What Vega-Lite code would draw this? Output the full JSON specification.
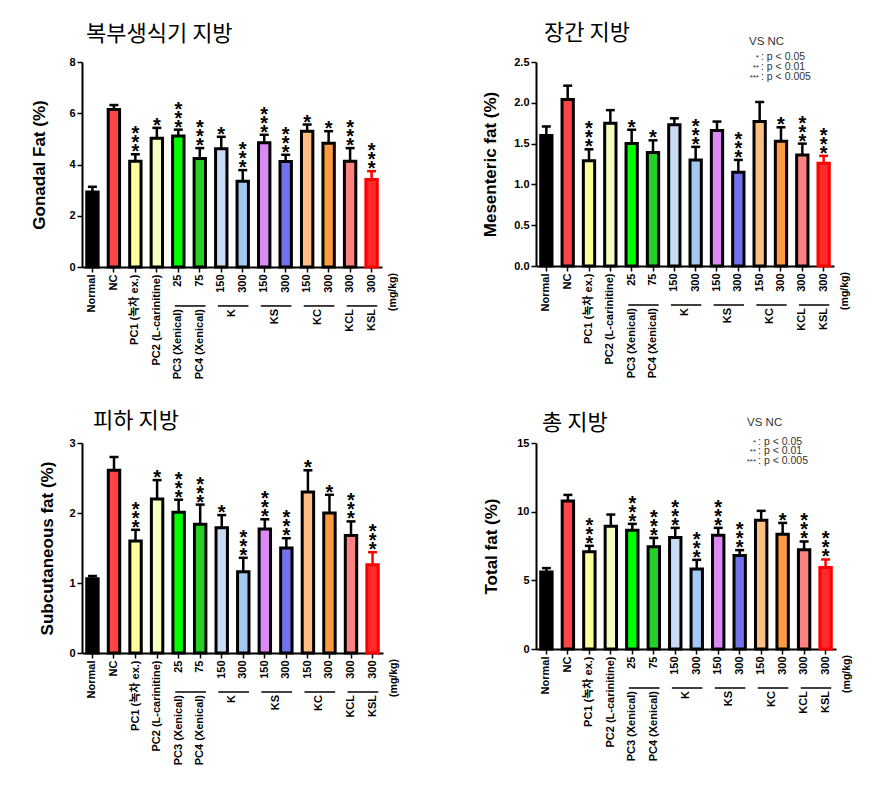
{
  "$schema": "https://vega.github.io/schema/vega-lite/v6.json",
  "padding": {"left": 30, "top": 22, "right": 5, "bottom": 5},
  "background": "white",
  "config": {
    "view": {"stroke": null},
    "font": "Liberation Sans, Noto Sans CJK KR",
    "scale": {"bandPaddingInner": 0.47, "bandPaddingOuter": 0.22},
    "axis": {
      "grid": false, "domainColor": "black", "tickColor": "black", "labelColor": "black", "titleColor": "black",
      "labelFont": "Liberation Sans, Noto Sans CJK KR", "titleFont": "Liberation Sans, Noto Sans CJK KR",
      "domainWidth": 2, "tickWidth": 1.5, "tickSize": 5, "labelFontWeight": "bold", "labelFontSize": 11,
      "titleFontWeight": "bold", "titleFontSize": 17
    },
    "axisX": {
      "labelAngle": -90, "labelAlign": "right", "labelBaseline": "middle", "labelPadding": 2, "title": null,
      "labelExpr": "datum.value === 'PC1' ? 'PC1 (녹차 ex.)' : datum.value === 'PC2' ? 'PC2 (L-carinitine)' : datum.value === 'PC3' ? '25' : datum.value === 'PC4' ? '75' : (datum.value === 'K150' || datum.value === 'KS150' || datum.value === 'KC150') ? '150' : (datum.value === 'K300' || datum.value === 'KS300' || datum.value === 'KC300' || datum.value === 'KCL' || datum.value === 'KSL') ? '300' : datum.value"
    },
    "axisY": {"labelPadding": 2},
    "title": {"font": "Noto Sans CJK KR", "fontSize": 22, "fontWeight": "normal", "anchor": "start", "frame": "group", "color": "black"},
    "text": {"font": "Liberation Sans, Noto Sans CJK KR", "color": "black"}
  },
  "datasets": {
    "gonadal": [
      {"id": "Normal", "mean": 2.93, "upper": 3.13, "stars": 0},
      {"id": "NC", "mean": 6.15, "upper": 6.32, "stars": 0},
      {"id": "PC1", "mean": 4.13, "upper": 4.40, "stars": 3},
      {"id": "PC2", "mean": 5.02, "upper": 5.43, "stars": 1},
      {"id": "PC3", "mean": 5.11, "upper": 5.36, "stars": 3},
      {"id": "PC4", "mean": 4.23, "upper": 4.64, "stars": 3},
      {"id": "K150", "mean": 4.61, "upper": 5.08, "stars": 1},
      {"id": "K300", "mean": 3.35, "upper": 3.78, "stars": 3},
      {"id": "KS150", "mean": 4.85, "upper": 5.16, "stars": 3},
      {"id": "KS300", "mean": 4.12, "upper": 4.38, "stars": 3},
      {"id": "KC150", "mean": 5.30, "upper": 5.56, "stars": 1},
      {"id": "KC300", "mean": 4.83, "upper": 5.30, "stars": 1},
      {"id": "KCL", "mean": 4.13, "upper": 4.64, "stars": 3},
      {"id": "KSL", "mean": 3.41, "upper": 3.74, "stars": 3}
    ],
    "mesenteric": [
      {"id": "Normal", "mean": 1.60, "upper": 1.71, "stars": 0},
      {"id": "NC", "mean": 2.04, "upper": 2.21, "stars": 0},
      {"id": "PC1", "mean": 1.29, "upper": 1.43, "stars": 3},
      {"id": "PC2", "mean": 1.75, "upper": 1.91, "stars": 0},
      {"id": "PC3", "mean": 1.50, "upper": 1.67, "stars": 1},
      {"id": "PC4", "mean": 1.39, "upper": 1.54, "stars": 1},
      {"id": "K150", "mean": 1.73, "upper": 1.81, "stars": 0},
      {"id": "K300", "mean": 1.30, "upper": 1.46, "stars": 3},
      {"id": "KS150", "mean": 1.66, "upper": 1.77, "stars": 0},
      {"id": "KS300", "mean": 1.15, "upper": 1.30, "stars": 3},
      {"id": "KC150", "mean": 1.77, "upper": 2.01, "stars": 0},
      {"id": "KC300", "mean": 1.53, "upper": 1.70, "stars": 1},
      {"id": "KCL", "mean": 1.36, "upper": 1.50, "stars": 3},
      {"id": "KSL", "mean": 1.26, "upper": 1.35, "stars": 3}
    ],
    "subcutaneous": [
      {"id": "Normal", "mean": 1.06, "upper": 1.10, "stars": 0},
      {"id": "NC", "mean": 2.61, "upper": 2.80, "stars": 0},
      {"id": "PC1", "mean": 1.60, "upper": 1.76, "stars": 3},
      {"id": "PC2", "mean": 2.20, "upper": 2.47, "stars": 1},
      {"id": "PC3", "mean": 2.01, "upper": 2.19, "stars": 3},
      {"id": "PC4", "mean": 1.84, "upper": 2.12, "stars": 3},
      {"id": "K150", "mean": 1.79, "upper": 1.97, "stars": 1},
      {"id": "K300", "mean": 1.16, "upper": 1.36, "stars": 3},
      {"id": "KS150", "mean": 1.77, "upper": 1.91, "stars": 3},
      {"id": "KS300", "mean": 1.50, "upper": 1.64, "stars": 3},
      {"id": "KC150", "mean": 2.30, "upper": 2.61, "stars": 1},
      {"id": "KC300", "mean": 2.00, "upper": 2.26, "stars": 1},
      {"id": "KCL", "mean": 1.68, "upper": 1.88, "stars": 3},
      {"id": "KSL", "mean": 1.26, "upper": 1.44, "stars": 3}
    ],
    "total": [
      {"id": "Normal", "mean": 5.60, "upper": 5.89, "stars": 0},
      {"id": "NC", "mean": 10.78, "upper": 11.22, "stars": 0},
      {"id": "PC1", "mean": 7.08, "upper": 7.51, "stars": 3},
      {"id": "PC2", "mean": 8.94, "upper": 9.79, "stars": 0},
      {"id": "PC3", "mean": 8.65, "upper": 9.11, "stars": 3},
      {"id": "PC4", "mean": 7.44, "upper": 8.09, "stars": 3},
      {"id": "K150", "mean": 8.12, "upper": 8.82, "stars": 3},
      {"id": "K300", "mean": 5.82, "upper": 6.49, "stars": 3},
      {"id": "KS150", "mean": 8.29, "upper": 8.82, "stars": 3},
      {"id": "KS300", "mean": 6.81, "upper": 7.20, "stars": 3},
      {"id": "KC150", "mean": 9.38, "upper": 10.06, "stars": 0},
      {"id": "KC300", "mean": 8.36, "upper": 9.18, "stars": 1},
      {"id": "KCL", "mean": 7.22, "upper": 7.83, "stars": 3},
      {"id": "KSL", "mean": 5.94, "upper": 6.52, "stars": 3}
    ],
    "pairs": [
      {"from": "PC3", "to": "PC4"},
      {"from": "K150", "to": "K300"},
      {"from": "KS150", "to": "KS300"},
      {"from": "KC150", "to": "KC300"},
      {"from": "KCL", "to": "KSL"}
    ],
    "single": [
      {"id": "PC3", "label": "PC3 (Xenical)"},
      {"id": "PC4", "label": "PC4 (Xenical)"},
      {"id": "KCL", "label": "KCL"},
      {"id": "KSL", "label": "KSL"}
    ],
    "grouped": [
      {"id": "K150", "label": "K"},
      {"id": "KS150", "label": "KS"},
      {"id": "KC150", "label": "KC"}
    ],
    "unit": [{"t": "(mg/kg)"}],
    "vsnc": [{"t": "VS NC"}],
    "one": [{"k": 1}]
  },
  "columns": 1,
  "align": "none",
  "spacing": 30,
  "concat": [
    {
      "spacing": 82,
      "hconcat": [
        {
          "width": 300, "height": 205,
          "title": {"text": "복부생식기 지방", "dx": 4, "offset": 10},
          "resolve": {"axis": {"x": "independent", "y": "independent"}},
          "layer": [
            {"data": {"name": "gonadal"}, "mark": {"type": "bar", "strokeWidth": 3},
             "encoding": {
               "x": {"field": "id", "type": "nominal", "scale": {"domain": ["Normal","NC","PC1","PC2","PC3","PC4","K150","K300","KS150","KS300","KC150","KC300","KCL","KSL"]}},
               "y": {"field": "mean", "type": "quantitative", "scale": {"domain": [0, 8], "nice": false}, "axis": {"title": "Gonadal Fat  (%)", "values": [0, 2, 4, 6, 8], "titlePadding": 20}},
               "fill": {"field": "id", "type": "nominal", "legend": null, "scale": {"domain": ["Normal","NC","PC1","PC2","PC3","PC4","K150","K300","KS150","KS300","KC150","KC300","KCL","KSL"], "range": ["#000000","#FF4545","#FFFF99","#F4FFC0","#00FF00","#26CF26","#C8DCF5","#A3C8F2","#DC88F6","#7272EE","#FFBE82","#FF9A40","#FF8282","#FF2A2A"]}},
               "stroke": {"condition": {"test": "datum.id === 'KSL'", "value": "#FF0000"}, "value": "#000000"}
             }},
            {"data": {"name": "gonadal"}, "mark": {"type": "rule", "strokeWidth": 2.5},
             "encoding": {
               "x": {"field": "id", "type": "nominal", "axis": null, "scale": {"domain": ["Normal","NC","PC1","PC2","PC3","PC4","K150","K300","KS150","KS300","KC150","KC300","KCL","KSL"]}},
               "y": {"field": "mean", "type": "quantitative", "axis": null, "scale": {"domain": [0, 8], "nice": false}},
               "y2": {"field": "upper"},
               "color": {"condition": {"test": "datum.id === 'KSL'", "value": "#FF0000"}, "value": "#000000"}
             }},
            {"data": {"name": "gonadal"}, "mark": {"type": "tick", "thickness": 2.5, "size": 9},
             "encoding": {
               "x": {"field": "id", "type": "nominal", "axis": null, "scale": {"domain": ["Normal","NC","PC1","PC2","PC3","PC4","K150","K300","KS150","KS300","KC150","KC300","KCL","KSL"]}},
               "y": {"field": "upper", "type": "quantitative", "axis": null, "scale": {"domain": [0, 8], "nice": false}},
               "color": {"condition": {"test": "datum.id === 'KSL'", "value": "#FF0000"}, "value": "#000000"},
               "opacity": {"value": 1}
             }},
            {"data": {"name": "gonadal"}, "transform": [{"filter": "datum.stars >= 1"}], "mark": {"type": "text", "baseline": "bottom", "fontSize": 20, "fontWeight": "bold", "dy": 8},
             "encoding": {
               "x": {"field": "id", "type": "nominal", "axis": null, "scale": {"domain": ["Normal","NC","PC1","PC2","PC3","PC4","K150","K300","KS150","KS300","KC150","KC300","KCL","KSL"]}},
               "y": {"field": "upper", "type": "quantitative", "axis": null, "scale": {"domain": [0, 8], "nice": false}},
               "text": {"value": "*"}
             }},
            {"data": {"name": "gonadal"}, "transform": [{"filter": "datum.stars >= 2"}], "mark": {"type": "text", "baseline": "bottom", "fontSize": 20, "fontWeight": "bold", "dy": -1},
             "encoding": {
               "x": {"field": "id", "type": "nominal", "axis": null, "scale": {"domain": ["Normal","NC","PC1","PC2","PC3","PC4","K150","K300","KS150","KS300","KC150","KC300","KCL","KSL"]}},
               "y": {"field": "upper", "type": "quantitative", "axis": null, "scale": {"domain": [0, 8], "nice": false}},
               "text": {"value": "*"}
             }},
            {"data": {"name": "gonadal"}, "transform": [{"filter": "datum.stars >= 3"}], "mark": {"type": "text", "baseline": "bottom", "fontSize": 20, "fontWeight": "bold", "dy": -10},
             "encoding": {
               "x": {"field": "id", "type": "nominal", "axis": null, "scale": {"domain": ["Normal","NC","PC1","PC2","PC3","PC4","K150","K300","KS150","KS300","KC150","KC300","KCL","KSL"]}},
               "y": {"field": "upper", "type": "quantitative", "axis": null, "scale": {"domain": [0, 8], "nice": false}},
               "text": {"value": "*"}
             }},
            {"data": {"name": "pairs"}, "mark": {"type": "rule", "strokeWidth": 1.5, "color": "black"},
             "encoding": {
               "x": {"field": "from", "type": "nominal", "bandPosition": 0.2, "axis": null, "scale": {"domain": ["Normal","NC","PC1","PC2","PC3","PC4","K150","K300","KS150","KS300","KC150","KC300","KCL","KSL"]}},
               "x2": {"field": "to", "bandPosition": 1},
               "y": {"datum": -1.52, "type": "quantitative", "axis": null, "scale": {"domain": [0, 8], "nice": false}}
             }},
            {"data": {"name": "single"}, "mark": {"type": "text", "angle": 270, "align": "right", "baseline": "middle", "fontSize": 11, "fontWeight": "bold"},
             "encoding": {
               "x": {"field": "id", "type": "nominal", "axis": null, "scale": {"domain": ["Normal","NC","PC1","PC2","PC3","PC4","K150","K300","KS150","KS300","KC150","KC300","KCL","KSL"]}},
               "y": {"datum": -1.64, "type": "quantitative", "axis": null, "scale": {"domain": [0, 8], "nice": false}},
               "text": {"field": "label"}
             }},
            {"data": {"name": "grouped"}, "mark": {"type": "text", "angle": 270, "align": "right", "baseline": "middle", "fontSize": 11, "fontWeight": "bold"},
             "encoding": {
               "x": {"field": "id", "type": "nominal", "bandPosition": 1.443, "axis": null, "scale": {"domain": ["Normal","NC","PC1","PC2","PC3","PC4","K150","K300","KS150","KS300","KC150","KC300","KCL","KSL"]}},
               "y": {"datum": -1.64, "type": "quantitative", "axis": null, "scale": {"domain": [0, 8], "nice": false}},
               "text": {"field": "label"}
             }},
            {"data": {"name": "unit"}, "mark": {"type": "text", "angle": 270, "align": "right", "baseline": "middle", "fontSize": 10.5, "fontWeight": "bold"},
             "encoding": {
               "x": {"datum": "KSL", "type": "nominal", "bandPosition": 2.4, "axis": null, "scale": {"domain": ["Normal","NC","PC1","PC2","PC3","PC4","K150","K300","KS150","KS300","KC150","KC300","KCL","KSL"]}},
               "y": {"datum": -0.234, "type": "quantitative", "axis": null, "scale": {"domain": [0, 8], "nice": false}},
               "text": {"field": "t"}
             }}
          ]
        },
        {
          "width": 298, "height": 204,
          "title": {"text": "장간 지방", "dx": 8, "offset": -9},
          "resolve": {"axis": {"x": "independent", "y": "independent"}},
          "layer": [
            {"data": {"name": "mesenteric"}, "mark": {"type": "bar", "strokeWidth": 3},
             "encoding": {
               "x": {"field": "id", "type": "nominal", "scale": {"domain": ["Normal","NC","PC1","PC2","PC3","PC4","K150","K300","KS150","KS300","KC150","KC300","KCL","KSL"]}},
               "y": {"field": "mean", "type": "quantitative", "scale": {"domain": [0, 2.5], "nice": false}, "axis": {"title": "Mesenteric fat (%)", "values": [0, 0.5, 1, 1.5, 2, 2.5], "format": ".1f", "titlePadding": 14}},
               "fill": {"field": "id", "type": "nominal", "legend": null, "scale": {"domain": ["Normal","NC","PC1","PC2","PC3","PC4","K150","K300","KS150","KS300","KC150","KC300","KCL","KSL"], "range": ["#000000","#FF4545","#FFFF99","#F4FFC0","#00FF00","#26CF26","#C8DCF5","#A3C8F2","#DC88F6","#7272EE","#FFBE82","#FF9A40","#FF8282","#FF2A2A"]}},
               "stroke": {"condition": {"test": "datum.id === 'KSL'", "value": "#FF0000"}, "value": "#000000"}
             }},
            {"data": {"name": "mesenteric"}, "mark": {"type": "rule", "strokeWidth": 2.5},
             "encoding": {
               "x": {"field": "id", "type": "nominal", "axis": null, "scale": {"domain": ["Normal","NC","PC1","PC2","PC3","PC4","K150","K300","KS150","KS300","KC150","KC300","KCL","KSL"]}},
               "y": {"field": "mean", "type": "quantitative", "axis": null, "scale": {"domain": [0, 2.5], "nice": false}},
               "y2": {"field": "upper"},
               "color": {"condition": {"test": "datum.id === 'KSL'", "value": "#FF0000"}, "value": "#000000"}
             }},
            {"data": {"name": "mesenteric"}, "mark": {"type": "tick", "thickness": 2.5, "size": 9},
             "encoding": {
               "x": {"field": "id", "type": "nominal", "axis": null, "scale": {"domain": ["Normal","NC","PC1","PC2","PC3","PC4","K150","K300","KS150","KS300","KC150","KC300","KCL","KSL"]}},
               "y": {"field": "upper", "type": "quantitative", "axis": null, "scale": {"domain": [0, 2.5], "nice": false}},
               "color": {"condition": {"test": "datum.id === 'KSL'", "value": "#FF0000"}, "value": "#000000"},
               "opacity": {"value": 1}
             }},
            {"data": {"name": "mesenteric"}, "transform": [{"filter": "datum.stars >= 1"}], "mark": {"type": "text", "baseline": "bottom", "fontSize": 20, "fontWeight": "bold", "dy": 8},
             "encoding": {
               "x": {"field": "id", "type": "nominal", "axis": null, "scale": {"domain": ["Normal","NC","PC1","PC2","PC3","PC4","K150","K300","KS150","KS300","KC150","KC300","KCL","KSL"]}},
               "y": {"field": "upper", "type": "quantitative", "axis": null, "scale": {"domain": [0, 2.5], "nice": false}},
               "text": {"value": "*"}
             }},
            {"data": {"name": "mesenteric"}, "transform": [{"filter": "datum.stars >= 2"}], "mark": {"type": "text", "baseline": "bottom", "fontSize": 20, "fontWeight": "bold", "dy": -1},
             "encoding": {
               "x": {"field": "id", "type": "nominal", "axis": null, "scale": {"domain": ["Normal","NC","PC1","PC2","PC3","PC4","K150","K300","KS150","KS300","KC150","KC300","KCL","KSL"]}},
               "y": {"field": "upper", "type": "quantitative", "axis": null, "scale": {"domain": [0, 2.5], "nice": false}},
               "text": {"value": "*"}
             }},
            {"data": {"name": "mesenteric"}, "transform": [{"filter": "datum.stars >= 3"}], "mark": {"type": "text", "baseline": "bottom", "fontSize": 20, "fontWeight": "bold", "dy": -10},
             "encoding": {
               "x": {"field": "id", "type": "nominal", "axis": null, "scale": {"domain": ["Normal","NC","PC1","PC2","PC3","PC4","K150","K300","KS150","KS300","KC150","KC300","KCL","KSL"]}},
               "y": {"field": "upper", "type": "quantitative", "axis": null, "scale": {"domain": [0, 2.5], "nice": false}},
               "text": {"value": "*"}
             }},
            {"data": {"name": "pairs"}, "mark": {"type": "rule", "strokeWidth": 1.5, "color": "black"},
             "encoding": {
               "x": {"field": "from", "type": "nominal", "bandPosition": 0.2, "axis": null, "scale": {"domain": ["Normal","NC","PC1","PC2","PC3","PC4","K150","K300","KS150","KS300","KC150","KC300","KCL","KSL"]}},
               "x2": {"field": "to", "bandPosition": 1},
               "y": {"datum": -0.478, "type": "quantitative", "axis": null, "scale": {"domain": [0, 2.5], "nice": false}}
             }},
            {"data": {"name": "single"}, "mark": {"type": "text", "angle": 270, "align": "right", "baseline": "middle", "fontSize": 11, "fontWeight": "bold"},
             "encoding": {
               "x": {"field": "id", "type": "nominal", "axis": null, "scale": {"domain": ["Normal","NC","PC1","PC2","PC3","PC4","K150","K300","KS150","KS300","KC150","KC300","KCL","KSL"]}},
               "y": {"datum": -0.515, "type": "quantitative", "axis": null, "scale": {"domain": [0, 2.5], "nice": false}},
               "text": {"field": "label"}
             }},
            {"data": {"name": "grouped"}, "mark": {"type": "text", "angle": 270, "align": "right", "baseline": "middle", "fontSize": 11, "fontWeight": "bold"},
             "encoding": {
               "x": {"field": "id", "type": "nominal", "bandPosition": 1.443, "axis": null, "scale": {"domain": ["Normal","NC","PC1","PC2","PC3","PC4","K150","K300","KS150","KS300","KC150","KC300","KCL","KSL"]}},
               "y": {"datum": -0.515, "type": "quantitative", "axis": null, "scale": {"domain": [0, 2.5], "nice": false}},
               "text": {"field": "label"}
             }},
            {"data": {"name": "unit"}, "mark": {"type": "text", "angle": 270, "align": "right", "baseline": "middle", "fontSize": 10.5, "fontWeight": "bold"},
             "encoding": {
               "x": {"datum": "KSL", "type": "nominal", "bandPosition": 2.4, "axis": null, "scale": {"domain": ["Normal","NC","PC1","PC2","PC3","PC4","K150","K300","KS150","KS300","KC150","KC300","KCL","KSL"]}},
               "y": {"datum": -0.0735, "type": "quantitative", "axis": null, "scale": {"domain": [0, 2.5], "nice": false}},
               "text": {"field": "t"}
             }},
            {"data": {"name": "vsnc"}, "mark": {"type": "text", "align": "left", "baseline": "middle", "fontSize": 11.5, "color": "#333333"},
             "encoding": {
               "x": {"datum": "KC150", "type": "nominal", "bandPosition": -0.44, "axis": null, "scale": {"domain": ["Normal","NC","PC1","PC2","PC3","PC4","K150","K300","KS150","KS300","KC150","KC300","KCL","KSL"]}},
               "y": {"datum": 2.74, "type": "quantitative", "axis": null, "scale": {"domain": [0, 2.5], "nice": false}},
               "text": {"field": "t"}
             }},
            {"data": {"name": "one"}, "mark": {"type": "text", "align": "right", "baseline": "top", "fontSize": 8, "lineHeight": 9.7, "dy": 2, "color": "#333333"},
             "encoding": {
               "x": {"datum": "KC150", "type": "nominal", "bandPosition": 0.44, "axis": null, "scale": {"domain": ["Normal","NC","PC1","PC2","PC3","PC4","K150","K300","KS150","KS300","KC150","KC300","KCL","KSL"]}},
               "y": {"datum": 2.62, "type": "quantitative", "axis": null, "scale": {"domain": [0, 2.5], "nice": false}},
               "text": {"value": ["*", "**", "***"]}
             }},
            {"data": {"name": "one"}, "mark": {"type": "text", "align": "left", "baseline": "top", "fontSize": 10.5, "lineHeight": 9.7, "color": "#333333"},
             "encoding": {
               "x": {"datum": "KC150", "type": "nominal", "bandPosition": 0.62, "axis": null, "scale": {"domain": ["Normal","NC","PC1","PC2","PC3","PC4","K150","K300","KS150","KS300","KC150","KC300","KCL","KSL"]}},
               "y": {"datum": 2.62, "type": "quantitative", "axis": null, "scale": {"domain": [0, 2.5], "nice": false}},
               "text": {"value": [":  p  <  0.05", ":  p  <  0.01", ":  p  <  0.005"]}
             }}
          ]
        }
      ]
    },
    {
      "spacing": 82,
      "hconcat": [
        {
          "width": 301, "height": 210,
          "title": {"text": "피하 지방", "dx": 11, "offset": 4},
          "resolve": {"axis": {"x": "independent", "y": "independent"}},
          "layer": [
            {"data": {"name": "subcutaneous"}, "mark": {"type": "bar", "strokeWidth": 3},
             "encoding": {
               "x": {"field": "id", "type": "nominal", "scale": {"domain": ["Normal","NC","PC1","PC2","PC3","PC4","K150","K300","KS150","KS300","KC150","KC300","KCL","KSL"]}},
               "y": {"field": "mean", "type": "quantitative", "scale": {"domain": [0, 3], "nice": false}, "axis": {"title": "Subcutaneous fat (%)", "values": [0, 1, 2, 3], "titlePadding": 12}},
               "fill": {"field": "id", "type": "nominal", "legend": null, "scale": {"domain": ["Normal","NC","PC1","PC2","PC3","PC4","K150","K300","KS150","KS300","KC150","KC300","KCL","KSL"], "range": ["#000000","#FF4545","#FFFF99","#F4FFC0","#00FF00","#26CF26","#C8DCF5","#A3C8F2","#DC88F6","#7272EE","#FFBE82","#FF9A40","#FF8282","#FF2A2A"]}},
               "stroke": {"condition": {"test": "datum.id === 'KSL'", "value": "#FF0000"}, "value": "#000000"}
             }},
            {"data": {"name": "subcutaneous"}, "mark": {"type": "rule", "strokeWidth": 2.5},
             "encoding": {
               "x": {"field": "id", "type": "nominal", "axis": null, "scale": {"domain": ["Normal","NC","PC1","PC2","PC3","PC4","K150","K300","KS150","KS300","KC150","KC300","KCL","KSL"]}},
               "y": {"field": "mean", "type": "quantitative", "axis": null, "scale": {"domain": [0, 3], "nice": false}},
               "y2": {"field": "upper"},
               "color": {"condition": {"test": "datum.id === 'KSL'", "value": "#FF0000"}, "value": "#000000"}
             }},
            {"data": {"name": "subcutaneous"}, "mark": {"type": "tick", "thickness": 2.5, "size": 9},
             "encoding": {
               "x": {"field": "id", "type": "nominal", "axis": null, "scale": {"domain": ["Normal","NC","PC1","PC2","PC3","PC4","K150","K300","KS150","KS300","KC150","KC300","KCL","KSL"]}},
               "y": {"field": "upper", "type": "quantitative", "axis": null, "scale": {"domain": [0, 3], "nice": false}},
               "color": {"condition": {"test": "datum.id === 'KSL'", "value": "#FF0000"}, "value": "#000000"},
               "opacity": {"value": 1}
             }},
            {"data": {"name": "subcutaneous"}, "transform": [{"filter": "datum.stars >= 1"}], "mark": {"type": "text", "baseline": "bottom", "fontSize": 20, "fontWeight": "bold", "dy": 8},
             "encoding": {
               "x": {"field": "id", "type": "nominal", "axis": null, "scale": {"domain": ["Normal","NC","PC1","PC2","PC3","PC4","K150","K300","KS150","KS300","KC150","KC300","KCL","KSL"]}},
               "y": {"field": "upper", "type": "quantitative", "axis": null, "scale": {"domain": [0, 3], "nice": false}},
               "text": {"value": "*"}
             }},
            {"data": {"name": "subcutaneous"}, "transform": [{"filter": "datum.stars >= 2"}], "mark": {"type": "text", "baseline": "bottom", "fontSize": 20, "fontWeight": "bold", "dy": -1},
             "encoding": {
               "x": {"field": "id", "type": "nominal", "axis": null, "scale": {"domain": ["Normal","NC","PC1","PC2","PC3","PC4","K150","K300","KS150","KS300","KC150","KC300","KCL","KSL"]}},
               "y": {"field": "upper", "type": "quantitative", "axis": null, "scale": {"domain": [0, 3], "nice": false}},
               "text": {"value": "*"}
             }},
            {"data": {"name": "subcutaneous"}, "transform": [{"filter": "datum.stars >= 3"}], "mark": {"type": "text", "baseline": "bottom", "fontSize": 20, "fontWeight": "bold", "dy": -10},
             "encoding": {
               "x": {"field": "id", "type": "nominal", "axis": null, "scale": {"domain": ["Normal","NC","PC1","PC2","PC3","PC4","K150","K300","KS150","KS300","KC150","KC300","KCL","KSL"]}},
               "y": {"field": "upper", "type": "quantitative", "axis": null, "scale": {"domain": [0, 3], "nice": false}},
               "text": {"value": "*"}
             }},
            {"data": {"name": "pairs"}, "mark": {"type": "rule", "strokeWidth": 1.5, "color": "black"},
             "encoding": {
               "x": {"field": "from", "type": "nominal", "bandPosition": 0.2, "axis": null, "scale": {"domain": ["Normal","NC","PC1","PC2","PC3","PC4","K150","K300","KS150","KS300","KC150","KC300","KCL","KSL"]}},
               "x2": {"field": "to", "bandPosition": 1},
               "y": {"datum": -0.557, "type": "quantitative", "axis": null, "scale": {"domain": [0, 3], "nice": false}}
             }},
            {"data": {"name": "single"}, "mark": {"type": "text", "angle": 270, "align": "right", "baseline": "middle", "fontSize": 11, "fontWeight": "bold"},
             "encoding": {
               "x": {"field": "id", "type": "nominal", "axis": null, "scale": {"domain": ["Normal","NC","PC1","PC2","PC3","PC4","K150","K300","KS150","KS300","KC150","KC300","KCL","KSL"]}},
               "y": {"datum": -0.6, "type": "quantitative", "axis": null, "scale": {"domain": [0, 3], "nice": false}},
               "text": {"field": "label"}
             }},
            {"data": {"name": "grouped"}, "mark": {"type": "text", "angle": 270, "align": "right", "baseline": "middle", "fontSize": 11, "fontWeight": "bold"},
             "encoding": {
               "x": {"field": "id", "type": "nominal", "bandPosition": 1.443, "axis": null, "scale": {"domain": ["Normal","NC","PC1","PC2","PC3","PC4","K150","K300","KS150","KS300","KC150","KC300","KCL","KSL"]}},
               "y": {"datum": -0.6, "type": "quantitative", "axis": null, "scale": {"domain": [0, 3], "nice": false}},
               "text": {"field": "label"}
             }},
            {"data": {"name": "unit"}, "mark": {"type": "text", "angle": 270, "align": "right", "baseline": "middle", "fontSize": 10.5, "fontWeight": "bold"},
             "encoding": {
               "x": {"datum": "KSL", "type": "nominal", "bandPosition": 2.4, "axis": null, "scale": {"domain": ["Normal","NC","PC1","PC2","PC3","PC4","K150","K300","KS150","KS300","KC150","KC300","KCL","KSL"]}},
               "y": {"datum": -0.0857, "type": "quantitative", "axis": null, "scale": {"domain": [0, 3], "nice": false}},
               "text": {"field": "t"}
             }}
          ]
        },
        {
          "width": 300, "height": 206,
          "title": {"text": "총 지방", "dx": 6, "offset": -18},
          "resolve": {"axis": {"x": "independent", "y": "independent"}},
          "layer": [
            {"data": {"name": "total"}, "mark": {"type": "bar", "strokeWidth": 3},
             "encoding": {
               "x": {"field": "id", "type": "nominal", "scale": {"domain": ["Normal","NC","PC1","PC2","PC3","PC4","K150","K300","KS150","KS300","KC150","KC300","KCL","KSL"]}},
               "y": {"field": "mean", "type": "quantitative", "scale": {"domain": [0, 15], "nice": false}, "axis": {"title": "Total fat (%)", "values": [0, 5, 10, 15], "titlePadding": 16}},
               "fill": {"field": "id", "type": "nominal", "legend": null, "scale": {"domain": ["Normal","NC","PC1","PC2","PC3","PC4","K150","K300","KS150","KS300","KC150","KC300","KCL","KSL"], "range": ["#000000","#FF4545","#FFFF99","#F4FFC0","#00FF00","#26CF26","#C8DCF5","#A3C8F2","#DC88F6","#7272EE","#FFBE82","#FF9A40","#FF8282","#FF2A2A"]}},
               "stroke": {"condition": {"test": "datum.id === 'KSL'", "value": "#FF0000"}, "value": "#000000"}
             }},
            {"data": {"name": "total"}, "mark": {"type": "rule", "strokeWidth": 2.5},
             "encoding": {
               "x": {"field": "id", "type": "nominal", "axis": null, "scale": {"domain": ["Normal","NC","PC1","PC2","PC3","PC4","K150","K300","KS150","KS300","KC150","KC300","KCL","KSL"]}},
               "y": {"field": "mean", "type": "quantitative", "axis": null, "scale": {"domain": [0, 15], "nice": false}},
               "y2": {"field": "upper"},
               "color": {"condition": {"test": "datum.id === 'KSL'", "value": "#FF0000"}, "value": "#000000"}
             }},
            {"data": {"name": "total"}, "mark": {"type": "tick", "thickness": 2.5, "size": 9},
             "encoding": {
               "x": {"field": "id", "type": "nominal", "axis": null, "scale": {"domain": ["Normal","NC","PC1","PC2","PC3","PC4","K150","K300","KS150","KS300","KC150","KC300","KCL","KSL"]}},
               "y": {"field": "upper", "type": "quantitative", "axis": null, "scale": {"domain": [0, 15], "nice": false}},
               "color": {"condition": {"test": "datum.id === 'KSL'", "value": "#FF0000"}, "value": "#000000"},
               "opacity": {"value": 1}
             }},
            {"data": {"name": "total"}, "transform": [{"filter": "datum.stars >= 1"}], "mark": {"type": "text", "baseline": "bottom", "fontSize": 20, "fontWeight": "bold", "dy": 8},
             "encoding": {
               "x": {"field": "id", "type": "nominal", "axis": null, "scale": {"domain": ["Normal","NC","PC1","PC2","PC3","PC4","K150","K300","KS150","KS300","KC150","KC300","KCL","KSL"]}},
               "y": {"field": "upper", "type": "quantitative", "axis": null, "scale": {"domain": [0, 15], "nice": false}},
               "text": {"value": "*"}
             }},
            {"data": {"name": "total"}, "transform": [{"filter": "datum.stars >= 2"}], "mark": {"type": "text", "baseline": "bottom", "fontSize": 20, "fontWeight": "bold", "dy": -1},
             "encoding": {
               "x": {"field": "id", "type": "nominal", "axis": null, "scale": {"domain": ["Normal","NC","PC1","PC2","PC3","PC4","K150","K300","KS150","KS300","KC150","KC300","KCL","KSL"]}},
               "y": {"field": "upper", "type": "quantitative", "axis": null, "scale": {"domain": [0, 15], "nice": false}},
               "text": {"value": "*"}
             }},
            {"data": {"name": "total"}, "transform": [{"filter": "datum.stars >= 3"}], "mark": {"type": "text", "baseline": "bottom", "fontSize": 20, "fontWeight": "bold", "dy": -10},
             "encoding": {
               "x": {"field": "id", "type": "nominal", "axis": null, "scale": {"domain": ["Normal","NC","PC1","PC2","PC3","PC4","K150","K300","KS150","KS300","KC150","KC300","KCL","KSL"]}},
               "y": {"field": "upper", "type": "quantitative", "axis": null, "scale": {"domain": [0, 15], "nice": false}},
               "text": {"value": "*"}
             }},
            {"data": {"name": "pairs"}, "mark": {"type": "rule", "strokeWidth": 1.5, "color": "black"},
             "encoding": {
               "x": {"field": "from", "type": "nominal", "bandPosition": 0.2, "axis": null, "scale": {"domain": ["Normal","NC","PC1","PC2","PC3","PC4","K150","K300","KS150","KS300","KC150","KC300","KCL","KSL"]}},
               "x2": {"field": "to", "bandPosition": 1},
               "y": {"datum": -2.84, "type": "quantitative", "axis": null, "scale": {"domain": [0, 15], "nice": false}}
             }},
            {"data": {"name": "single"}, "mark": {"type": "text", "angle": 270, "align": "right", "baseline": "middle", "fontSize": 11, "fontWeight": "bold"},
             "encoding": {
               "x": {"field": "id", "type": "nominal", "axis": null, "scale": {"domain": ["Normal","NC","PC1","PC2","PC3","PC4","K150","K300","KS150","KS300","KC150","KC300","KCL","KSL"]}},
               "y": {"datum": -3.06, "type": "quantitative", "axis": null, "scale": {"domain": [0, 15], "nice": false}},
               "text": {"field": "label"}
             }},
            {"data": {"name": "grouped"}, "mark": {"type": "text", "angle": 270, "align": "right", "baseline": "middle", "fontSize": 11, "fontWeight": "bold"},
             "encoding": {
               "x": {"field": "id", "type": "nominal", "bandPosition": 1.443, "axis": null, "scale": {"domain": ["Normal","NC","PC1","PC2","PC3","PC4","K150","K300","KS150","KS300","KC150","KC300","KCL","KSL"]}},
               "y": {"datum": -3.06, "type": "quantitative", "axis": null, "scale": {"domain": [0, 15], "nice": false}},
               "text": {"field": "label"}
             }},
            {"data": {"name": "unit"}, "mark": {"type": "text", "angle": 270, "align": "right", "baseline": "middle", "fontSize": 10.5, "fontWeight": "bold"},
             "encoding": {
               "x": {"datum": "KSL", "type": "nominal", "bandPosition": 2.4, "axis": null, "scale": {"domain": ["Normal","NC","PC1","PC2","PC3","PC4","K150","K300","KS150","KS300","KC150","KC300","KCL","KSL"]}},
               "y": {"datum": -0.437, "type": "quantitative", "axis": null, "scale": {"domain": [0, 15], "nice": false}},
               "text": {"field": "t"}
             }},
            {"data": {"name": "vsnc"}, "mark": {"type": "text", "align": "left", "baseline": "middle", "fontSize": 11.5, "color": "#333333"},
             "encoding": {
               "x": {"datum": "KC150", "type": "nominal", "bandPosition": -0.74, "axis": null, "scale": {"domain": ["Normal","NC","PC1","PC2","PC3","PC4","K150","K300","KS150","KS300","KC150","KC300","KCL","KSL"]}},
               "y": {"datum": 16.46, "type": "quantitative", "axis": null, "scale": {"domain": [0, 15], "nice": false}},
               "text": {"field": "t"}
             }},
            {"data": {"name": "one"}, "mark": {"type": "text", "align": "right", "baseline": "top", "fontSize": 8, "lineHeight": 9.7, "dy": 2, "color": "#333333"},
             "encoding": {
               "x": {"datum": "KC150", "type": "nominal", "bandPosition": 0.05, "axis": null, "scale": {"domain": ["Normal","NC","PC1","PC2","PC3","PC4","K150","K300","KS150","KS300","KC150","KC300","KCL","KSL"]}},
               "y": {"datum": 15.47, "type": "quantitative", "axis": null, "scale": {"domain": [0, 15], "nice": false}},
               "text": {"value": ["*", "**", "***"]}
             }},
            {"data": {"name": "one"}, "mark": {"type": "text", "align": "left", "baseline": "top", "fontSize": 10.5, "lineHeight": 9.7, "color": "#333333"},
             "encoding": {
               "x": {"datum": "KC150", "type": "nominal", "bandPosition": 0.23, "axis": null, "scale": {"domain": ["Normal","NC","PC1","PC2","PC3","PC4","K150","K300","KS150","KS300","KC150","KC300","KCL","KSL"]}},
               "y": {"datum": 15.47, "type": "quantitative", "axis": null, "scale": {"domain": [0, 15], "nice": false}},
               "text": {"value": [":  p  <  0.05", ":  p  <  0.01", ":  p  <  0.005"]}
             }}
          ]
        }
      ]
    }
  ]
}
